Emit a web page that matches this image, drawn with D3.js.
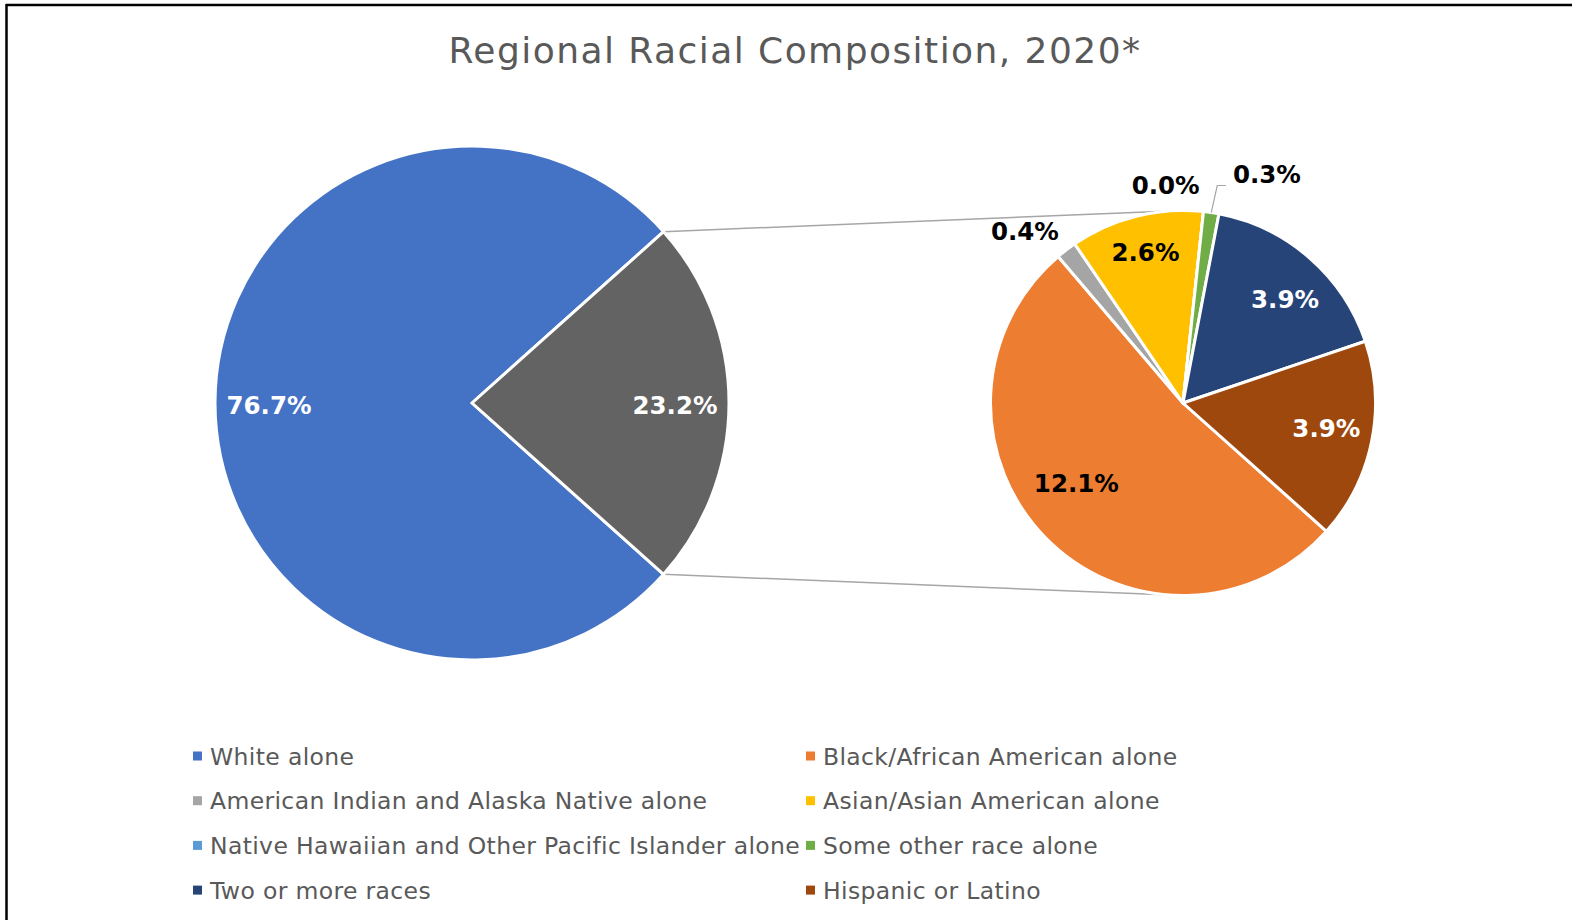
<!DOCTYPE html>
<html>
<head>
<meta charset="utf-8">
<script src="https://cdn.jsdelivr.net/npm/d3@7.9.0/dist/d3.min.js"></script>
<style>
  body { margin: 0; background: #fff; }
  svg { display: block; font-family: "DejaVu Sans", Verdana, sans-serif; }
</style>
</head>
<body>
<svg id="chart"></svg>
<script>
const width = 1572;
const height = 920;

// main pie
const mainLabels = ["White alone", "Other"];
const mainValues = [76.7, 23.2];

// breakdown of "Other" (second pie), in Excel order
const subLabels = [
  "Black/African American alone",
  "American Indian and Alaska Native alone",
  "Asian/Asian American alone",
  "Native Hawaiian and Other Pacific Islander alone",
  "Some other race alone",
  "Two or more races",
  "Hispanic or Latino"
];
const subValues = [12.1, 0.4, 2.6, 0.0, 0.3, 3.9, 3.9];

const legendOrder = [
  "White alone", "Black/African American alone",
  "American Indian and Alaska Native alone", "Asian/Asian American alone",
  "Native Hawaiian and Other Pacific Islander alone", "Some other race alone",
  "Two or more races", "Hispanic or Latino"
];

const colors = {
  "White alone": "#4472C4",
  "Other": "#636363",
  "Black/African American alone": "#ED7D31",
  "American Indian and Alaska Native alone": "#A5A5A5",
  "Asian/Asian American alone": "#FFC000",
  "Native Hawaiian and Other Pacific Islander alone": "#5B9BD5",
  "Some other race alone": "#70AD47",
  "Two or more races": "#264478",
  "Hispanic or Latino": "#9E480E"
};
const darkSlices = new Set(["White alone", "Other", "Two or more races", "Hispanic or Latino"]);

const svg = d3.select("#chart").attr("width", width).attr("height", height);

// frame (only top and left edges show)
svg.append("line").attr("x1", 6).attr("x2", width).attr("y1", 5).attr("y2", 5)
  .attr("stroke", "#000").attr("stroke-width", 2.5);
svg.append("line").attr("x1", 6.5).attr("x2", 6.5).attr("y1", 4).attr("y2", height)
  .attr("stroke", "#000").attr("stroke-width", 2.5);

svg.append("text")
  .attr("x", 795).attr("y", 63)
  .attr("text-anchor", "middle")
  .attr("fill", "#595959")
  .attr("font-size", 36)
  .attr("letter-spacing", 1.45)
  .text("Regional Racial Composition, 2020*");

const fmt = v => v.toFixed(1) + "%";

const main = { cx: 472, cy: 403, r: 257 };
const sub = { cx: 1183, cy: 403, r: 192.5 };

const mainTotal = d3.sum(mainValues);
const otherSpan = 2 * Math.PI * mainValues[1] / mainTotal;
const start = Math.PI / 2 + otherSpan / 2;

const mainArcs = d3.pie().sort(null)
  .startAngle(start).endAngle(start + 2 * Math.PI)(mainValues)
  .map((a, i) => ({ ...a, name: mainLabels[i] }));
const subArcs = d3.pie().sort(null)
  .startAngle(start).endAngle(start + 2 * Math.PI)(subValues)
  .map((a, i) => ({ ...a, name: subLabels[i] }));

// connector lines from the "Other" slice edges to the top/bottom of the second pie
const otherArc = mainArcs[1];
const edge = (c, ang, rr) => [c.cx + rr * Math.sin(ang), c.cy - rr * Math.cos(ang)];
const connectors = [
  [edge(main, otherArc.startAngle, main.r), [sub.cx, sub.cy - sub.r]],
  [edge(main, otherArc.endAngle, main.r), [sub.cx, sub.cy + sub.r]]
];
svg.append("g").selectAll("line").data(connectors).join("line")
  .attr("x1", d => d[0][0]).attr("y1", d => d[0][1])
  .attr("x2", d => d[1][0]).attr("y2", d => d[1][1])
  .attr("stroke", "#a6a6a6").attr("stroke-width", 1.5);

function drawPie(c, arcs) {
  const arc = d3.arc().innerRadius(0).outerRadius(c.r);
  const g = svg.append("g").attr("transform", `translate(${c.cx},${c.cy})`);
  g.selectAll("path").data(arcs).join("path")
    .attr("d", arc)
    .attr("fill", d => colors[d.name])
    .attr("stroke", "#fff")
    .attr("stroke-width", 3)
    .attr("stroke-linejoin", "round");
  return g;
}

const labelStyle = sel => sel
  .attr("text-anchor", "middle")
  .attr("dominant-baseline", "central")
  .attr("font-weight", "bold")
  .attr("font-size", 24.5)
  .text(d => fmt(d.value));

const mainG = drawPie(main, mainArcs);
const mainLabelArc = d3.arc().innerRadius(main.r * 0.79).outerRadius(main.r * 0.79);
mainG.selectAll("text").data(mainArcs).join("text")
  .attr("x", d => mainLabelArc.centroid(d)[0])
  .attr("y", d => mainLabelArc.centroid(d)[1] + 2)
  .attr("fill", "#fff")
  .call(labelStyle);

// Excel's best-fit placement, as small offsets from the plain centroid
const nudge = {
  "Black/African American alone": [-2, -22],
  "Asian/Asian American alone": [-2, -9],
  "Two or more races": [6, 7],
  "Hispanic or Latino": [0, -4],
  "American Indian and Alaska Native alone": [-18, 12],
  "Native Hawaiian and Other Pacific Islander alone": [-42, 12],
  "Some other race alone": [50, 0]
};

const subG = drawPie(sub, subArcs);
const inner = subArcs.filter(d => d.value >= 1);
const outer = subArcs.filter(d => d.value < 1);
const subLabelArc = d3.arc().innerRadius(sub.r * 0.76).outerRadius(sub.r * 0.76);
const inPos = d => {
  const p = subLabelArc.centroid(d);
  const n = nudge[d.name] || [0, 0];
  return [p[0] + n[0], p[1] + n[1]];
};
subG.selectAll("text.in").data(inner).join("text")
  .attr("class", "in")
  .attr("x", d => inPos(d)[0])
  .attr("y", d => inPos(d)[1])
  .attr("fill", d => darkSlices.has(d.name) ? "#fff" : "#000")
  .call(labelStyle);

// small slices get outside labels
const outArc = d3.arc().innerRadius(sub.r * 1.2).outerRadius(sub.r * 1.2);
const outPos = d => {
  const p = outArc.centroid(d);
  const n = nudge[d.name] || [0, 0];
  return [p[0] + n[0], p[1] + n[1]];
};
subG.selectAll("text.out").data(outer).join("text")
  .attr("class", "out")
  .attr("x", d => outPos(d)[0])
  .attr("y", d => outPos(d)[1])
  .attr("fill", "#000")
  .call(labelStyle);

// leader line for the label pushed to the right
const leader = outer.filter(d => d.name === "Some other race alone");
subG.selectAll("polyline").data(leader).join("polyline")
  .attr("points", d => {
    const mid = (d.startAngle + d.endAngle) / 2;
    const a = [sub.r * Math.sin(mid), -sub.r * Math.cos(mid)];
    const p = outPos(d);
    const left = p[0] - 37;
    return [a, [a[0] + 6, p[1] + 11], [left - 4, p[1] + 11]].map(q => q.join(",")).join(" ");
  })
  .attr("fill", "none")
  .attr("stroke", "#a6a6a6")
  .attr("stroke-width", 1.2);

// legend
const legend = svg.append("g").selectAll("g").data(legendOrder).join("g")
  .attr("transform", (d, i) => `translate(${i % 2 ? 806 : 193},${756.5 + Math.floor(i / 2) * 44.7})`);
legend.append("rect")
  .attr("x", 0).attr("y", -5).attr("width", 9).attr("height", 9)
  .attr("fill", d => colors[d]);
legend.append("text")
  .attr("x", 17).attr("y", 0)
  .attr("dominant-baseline", "central")
  .attr("fill", "#595959")
  .attr("font-size", 23.5)
  .attr("letter-spacing", 0.35)
  .text(d => d);
</script>
</body>
</html>
